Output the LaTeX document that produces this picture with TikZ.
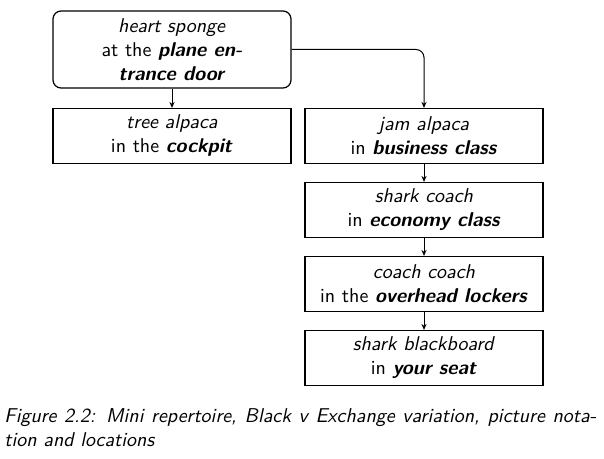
\documentclass[tikz,border=0pt]{standalone}
\usetikzlibrary{arrows.meta}
\begin{document}
\begin{tikzpicture}[x=0.5pt,y=-0.5pt,
  font=\sffamily,
  box/.style={draw, line width=0.6pt, minimum width=119pt, minimum height=27.5pt, inner sep=2pt, align=center},
  conn/.style={line width=0.5pt, -{Stealth[length=3pt,width=2.6pt]}},
  captext/.style={font=\sffamily\itshape, inner sep=0pt, align=left}]
\useasboundingbox (0,0) rectangle (604,459);
\node[box, rounded corners=4pt, minimum height=38.5pt] (top) at (172,49.5)
  {\textit{heart sponge}\\at the \textbf{\textit{plane en-}}\\\textbf{\textit{trance door}}};
\node[box] (tree) at (172,136) {\textit{tree alpaca}\\in the \textbf{\textit{cockpit}}};
\node[box] (jam) at (424,136) {\textit{jam alpaca}\\in \textbf{\textit{business class}}};
\node[box] (shark) at (424,210) {\textit{shark coach}\\in \textbf{\textit{economy class}}};
\node[box] (coach) at (424,284) {\textit{coach coach}\\in the \textbf{\textit{overhead lockers}}};
\node[box] (board) at (424,358) {\textit{shark blackboard}\\in \textbf{\textit{your seat}}};
\draw[conn] (top) -- (tree);
\draw[conn, rounded corners=4pt] (top.east) -| (jam.north);
\draw[conn] (jam) -- (shark);
\draw[conn] (shark) -- (coach);
\draw[conn] (coach) -- (board);
\node[captext, anchor=north west] (cap) at (4,408)
  {\hbox to 296pt{Figure 2.2: Mini repertoire, Black v Exchange variation, picture nota-}\\tion and locations};
\end{tikzpicture}
\end{document}
